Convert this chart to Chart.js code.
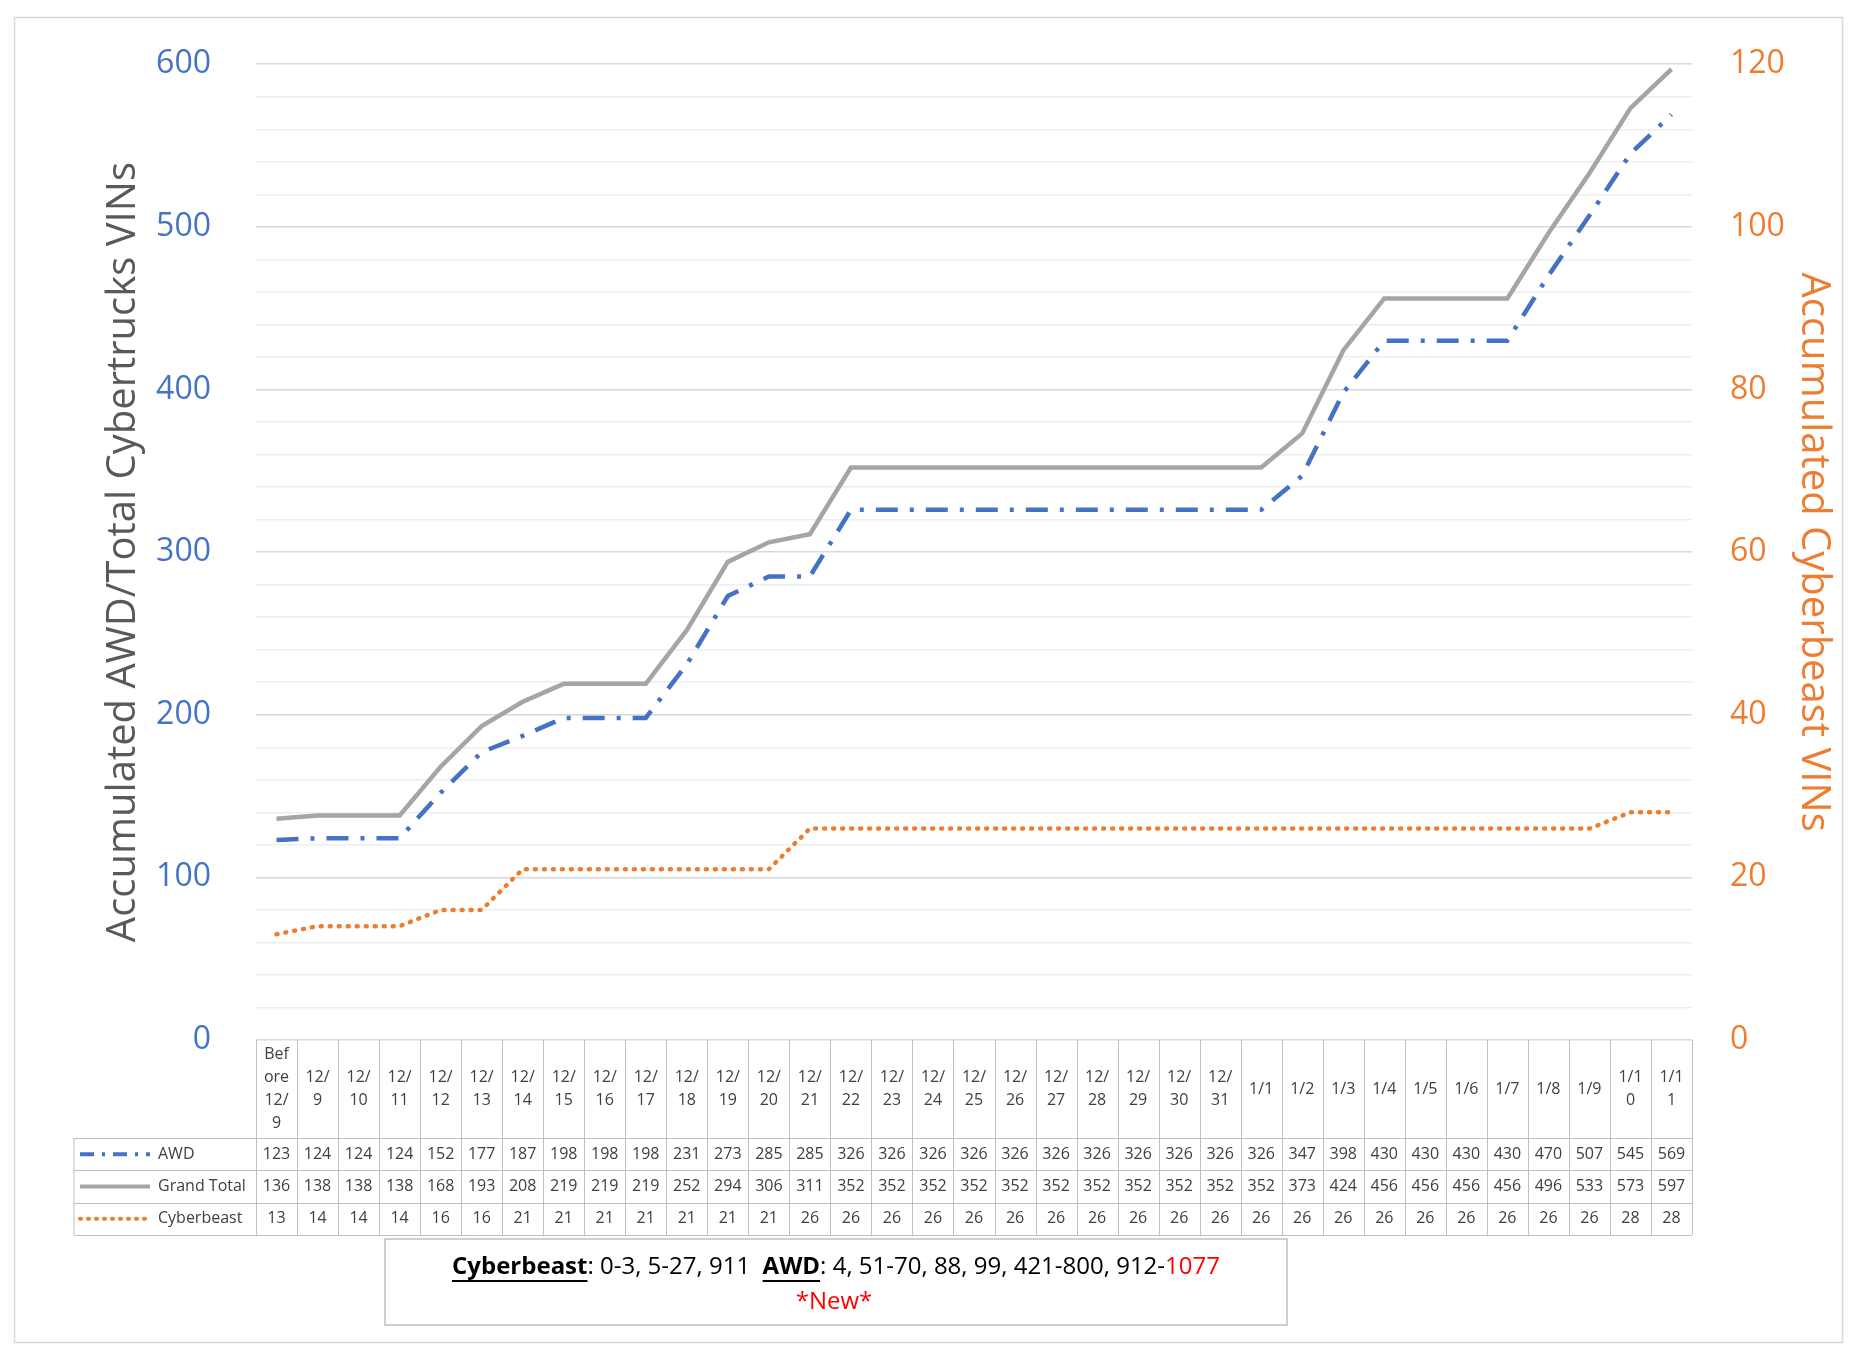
<!DOCTYPE html>
<html><head><meta charset="utf-8">
<script src="https://cdn.jsdelivr.net/npm/chart.js@4/dist/chart.umd.min.js"></script>
<style>html,body{margin:0;background:#fff}canvas{display:block}</style>
</head><body>
<canvas id="c" width="1859" height="1364"></canvas>
<script>
const categories = ["Before 12/9", "12/9", "12/10", "12/11", "12/12", "12/13", "12/14", "12/15", "12/16", "12/17",
  "12/18", "12/19", "12/20", "12/21", "12/22", "12/23", "12/24", "12/25", "12/26", "12/27", "12/28", "12/29",
  "12/30", "12/31", "1/1", "1/2", "1/3", "1/4", "1/5", "1/6", "1/7", "1/8", "1/9", "1/10", "1/11"];
const awd = [123, 124, 124, 124, 152, 177, 187, 198, 198, 198, 231, 273, 285, 285, 326, 326, 326, 326, 326, 326,
  326, 326, 326, 326, 326, 347, 398, 430, 430, 430, 430, 470, 507, 545, 569];
const grandTotal = [136, 138, 138, 138, 168, 193, 208, 219, 219, 219, 252, 294, 306, 311, 352, 352, 352, 352, 352,
  352, 352, 352, 352, 352, 352, 373, 424, 456, 456, 456, 456, 496, 533, 573, 597];
const cyberbeast = [13, 14, 14, 14, 16, 16, 21, 21, 21, 21, 21, 21, 21, 26, 26, 26, 26, 26, 26, 26, 26, 26, 26,
  26, 26, 26, 26, 26, 26, 26, 26, 26, 26, 28, 28];

const BLUE = "#4472C4", GREY = "#A5A5A5", ORANGE = "#ED7D31", LINE = "#BFBFBF";
const FONT = "'Open Sans', 'Liberation Sans', Arial, sans-serif";

const wrap = (s) => {
  const t = s.replace(/\s/g, "");
  if (t.length <= 3) return [t];
  const out = [];
  for (let i = 0; i < t.length; i += 3) out.push(t.slice(i, i + 3));
  return out;
};

const tablePlugin = {
  id: "table",
  afterDraw(chart) {
    const ctx = chart.ctx, area = chart.chartArea, x = chart.scales.x;
    const n = categories.length, w = (area.right - area.left) / n;
    const top = area.bottom, hdrBot = 1138, rowH = 32.3;
    const rows = [
      { name: "AWD", data: awd, color: BLUE, dash: [14, 8, 3, 8], cap: "butt" },
      { name: "Grand Total", data: grandTotal, color: GREY, dash: [], cap: "butt" },
      { name: "Cyberbeast", data: cyberbeast, color: ORANGE, dash: [1, 7], cap: "round" },
    ];
    const bottom = hdrBot + rowH * rows.length;
    ctx.save();
    ctx.strokeStyle = "#D9D9D9"; ctx.lineWidth = 1.5;
    ctx.strokeRect(14.5, 17.5, 1828, 1325);
    ctx.strokeStyle = LINE; ctx.lineWidth = 1;
    ctx.beginPath();
    for (let i = 0; i <= n; i++) {
      const xx = Math.round(area.left + i * w) + 0.5;
      ctx.moveTo(xx, top); ctx.lineTo(xx, bottom);
    }
    ctx.moveTo(74, hdrBot); ctx.lineTo(74, bottom);
    for (let r = 0; r <= rows.length; r++) {
      const yy = Math.round(hdrBot + r * rowH) + 0.5;
      ctx.moveTo(74, yy); ctx.lineTo(area.right, yy);
    }
    ctx.stroke();
    ctx.fillStyle = "#404040"; ctx.font = "16px " + FONT;
    ctx.textAlign = "center"; ctx.textBaseline = "middle";
    categories.forEach((c, i) => {
      const lines = wrap(c), cx = x.getPixelForValue(i), mid = (top + hdrBot) / 2;
      lines.forEach((l, k) => ctx.fillText(l, cx, mid + (k - (lines.length - 1) / 2) * 23));
    });
    rows.forEach((r, ri) => {
      const cy = hdrBot + rowH * (ri + 0.5);
      ctx.fillStyle = "#404040"; ctx.textAlign = "center";
      r.data.forEach((v, i) => ctx.fillText(v, x.getPixelForValue(i), cy));
      ctx.save();
      ctx.strokeStyle = r.color; ctx.lineWidth = 4; ctx.setLineDash(r.dash); ctx.lineCap = r.cap;
      ctx.beginPath(); ctx.moveTo(80, cy); ctx.lineTo(150, cy); ctx.stroke();
      ctx.restore();
      ctx.textAlign = "left"; ctx.fillText(r.name, 158, cy);
    });
    ctx.strokeStyle = LINE; ctx.lineWidth = 1.5;
    ctx.strokeRect(385, 1239, 902, 86);
    const parts = [
      { t: "Cyberbeast", b: true, u: true, c: "#000" },
      { t: ": 0-3, 5-27, 911  ", c: "#000" },
      { t: "AWD", b: true, u: true, c: "#000" },
      { t: ": 4, 51-70, 88, 99, 421-800, 912-", c: "#000" },
      { t: "1077", c: "#FF0000" },
    ];
    const fnt = (p) => (p.b ? "bold " : "") + "24px " + FONT;
    let total = 0;
    parts.forEach((p) => { ctx.font = fnt(p); total += ctx.measureText(p.t).width; });
    let px = 836 - total / 2; const py = 1267;
    ctx.textAlign = "left";
    parts.forEach((p) => {
      ctx.font = fnt(p); ctx.fillStyle = p.c;
      const tw = ctx.measureText(p.t).width;
      ctx.fillText(p.t, px, py);
      if (p.u) { ctx.fillRect(px, py + 13, tw, 2); }
      px += tw;
    });
    ctx.font = "24px " + FONT; ctx.fillStyle = "#FF0000"; ctx.textAlign = "center";
    ctx.fillText("*New*", 834, 1302);
    ctx.restore();
  },
};

new Chart(document.getElementById("c"), {
  type: "line",
  data: {
    labels: categories,
    datasets: [
      { label: "AWD", data: awd, borderColor: BLUE, borderWidth: 4.5, borderDash: [22, 12, 4, 12], yAxisID: "y" },
      { label: "Grand Total", data: grandTotal, borderColor: GREY, borderWidth: 4.5, yAxisID: "y" },
      { label: "Cyberbeast", data: cyberbeast, borderColor: ORANGE, borderWidth: 4.5, borderDash: [1, 8],
        borderCapStyle: "round", yAxisID: "y1" },
    ],
  },
  options: {
    responsive: false, animation: false,
    elements: { point: { radius: 0 }, line: { tension: 0 } },
    layout: { padding: { top: 57, bottom: 324, left: 0, right: 0 } },
    plugins: { legend: { display: false }, tooltip: { enabled: false } },
    scales: {
      x: {
        offset: true, ticks: { display: false }, grid: { display: false }, border: { display: false },
        afterFit: (s) => { s.height = 0; },
      },
      y: {
        min: 0, max: 600, afterFit: (s) => { s.width = 256; },
        ticks: { stepSize: 20, autoSkip: false, color: BLUE, font: { size: 32, family: FONT }, padding: 45,
          callback: (v) => (v % 100 === 0 ? v : "") },
        grid: { color: (c) => (c.tick.value % 100 === 0 ? "#D9D9D9" : "#EEEEEE"), lineWidth: 1.5, drawTicks: false },
        border: { display: false },
        title: { display: true, text: "Accumulated AWD/Total Cybertrucks VINs", color: "#595959",
          font: { size: 40, family: FONT }, padding: { top: 100, bottom: 0 } },
      },
      y1: {
        position: "right", min: 0, max: 120, afterFit: (s) => { s.width = 167; },
        ticks: { stepSize: 4, autoSkip: false, color: ORANGE, font: { size: 32, family: FONT }, padding: 30,
          callback: (v) => (v % 20 === 0 ? v : "") },
        grid: { display: false }, border: { display: false },
        title: { display: true, text: "Accumulated Cyberbeast VINs", color: ORANGE,
          font: { size: 40, family: FONT }, padding: { top: 22, bottom: 0 } },
      },
    },
  },
  plugins: [tablePlugin],
});
</script>
</body></html>
